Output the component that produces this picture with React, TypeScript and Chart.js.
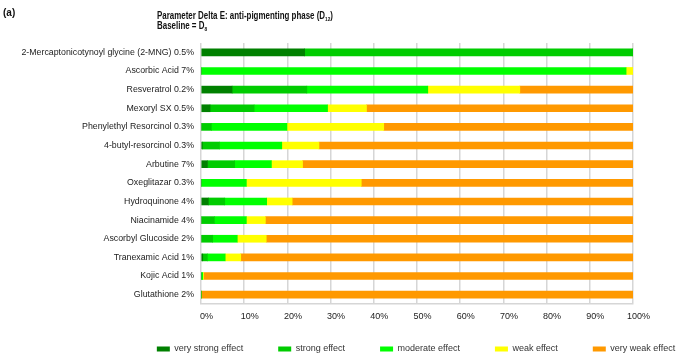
import React, { useEffect, useRef } from "react";
import { Chart, registerables } from "chart.js";

Chart.register(...registerables);

const categories = [
  "2-Mercaptonicotynoyl glycine (2-MNG) 0.5%",
  "Ascorbic Acid 7%",
  "Resveratrol 0.2%",
  "Mexoryl SX 0.5%",
  "Phenylethyl Resorcinol 0.3%",
  "4-butyl-resorcinol 0.3%",
  "Arbutine 7%",
  "Oxeglitazar 0.3%",
  "Hydroquinone 4%",
  "Niacinamide 4%",
  "Ascorbyl Glucoside 2%",
  "Tranexamic Acid 1%",
  "Kojic Acid 1%",
  "Glutathione 2%",
];

const seriesNames = ["very strong effect", "strong effect", "moderate effect", "weak effect", "very weak effect"];
const seriesColors = ["#008000", "#00CC00", "#00FF00", "#FFFF00", "#FF9900"];

const veryStrong = [24, 0, 7.2, 2.1, 0, 0.3, 1.5, 0, 1.7, 0, 0, 0.4, 0, 0];
const strong = [76, 0, 17.3, 10.2, 2.4, 4.0, 6.3, 0, 3.8, 3.1, 2.7, 1.1, 0, 0];
const moderate = [0, 98.4, 28, 17, 17.5, 14.4, 8.5, 10.5, 9.7, 7.4, 5.7, 4.1, 0.4, 0];
const weak = [0, 1.6, 21.3, 9, 22.4, 8.6, 7.2, 26.6, 5.9, 4.4, 6.7, 3.6, 0.2, 0];
const veryWeak = [0, 0, 26.2, 61.7, 57.7, 72.7, 76.5, 62.9, 78.9, 85.1, 84.9, 90.8, 99.4, 100];

const xTicks = [0, 10, 20, 30, 40, 50, 60, 70, 80, 90, 100];

const titleLine1 = "Parameter Delta E: anti-pigmenting phase (D";
const titleSub1 = "12";
const titleLine2 = "Baseline = D";
const titleSub2 = "8";
const panelLabel = "(a)";

const FONT = '"Liberation Sans", Arial, Helvetica, sans-serif';

const titlePlugin = {
  id: "customTitle",
  afterInit(chart: any) {
    const lg = chart.legend;
    if (lg && !lg.__patched) {
      const orig = lg.fit.bind(lg);
      lg.fit = function () {
        orig();
        this.height = 20;
      };
      lg.__patched = true;
    }
  },
  beforeDraw(chart: any) {
    const lg = chart.legend;
    if (lg) {
      const d = 416 - (lg.left + lg.right) / 2;
      lg.left += d;
      lg.right += d;
      lg.top = 309.5;
      lg.bottom = 363.5;
      lg.height = 54;
    }
  },
  afterDraw(chart: any) {
    const ctx = chart.ctx;
    ctx.save();
    ctx.fillStyle = "#111";
    ctx.textBaseline = "middle";
    ctx.textAlign = "left";
    ctx.font = `bold 10px ${FONT}`;
    ctx.fillText(panelLabel, 3, 13);

    const drawWithSub = (main: string, sub: string, x: number, y: number, tail: string, sx: number) => {
      ctx.save();
      ctx.translate(x, y);
      ctx.scale(sx, 1);
      ctx.font = `bold 10px ${FONT}`;
      ctx.fillText(main, 0, 0);
      const w = ctx.measureText(main).width;
      ctx.font = `bold 6px ${FONT}`;
      ctx.fillText(sub, w, 3);
      const ws = ctx.measureText(sub).width;
      ctx.font = `bold 10px ${FONT}`;
      if (tail) ctx.fillText(tail, w + ws, 0);
      ctx.restore();
    };
    ctx.font = `bold 10px ${FONT}`;
    const w1 = ctx.measureText(titleLine1).width;
    ctx.font = `bold 6px ${FONT}`;
    const w2 = ctx.measureText(titleSub1).width;
    ctx.font = `bold 10px ${FONT}`;
    const w3 = ctx.measureText(")").width;
    const sx = 176 / (w1 + w2 + w3);
    drawWithSub(titleLine1, titleSub1, 157, 16, ")", sx);
    drawWithSub(titleLine2, titleSub2, 157, 26.5, "", sx);
    ctx.restore();
  },
};

export default function App() {
  const ref = useRef<HTMLCanvasElement>(null);
  useEffect(() => {
    if (!ref.current) return;
    const data = [veryStrong, strong, moderate, weak, veryWeak];
    const chart = new Chart(ref.current, {
      type: "bar",
      data: {
        labels: categories,
        datasets: seriesNames.map((name, i) => ({
          label: name,
          data: data[i],
          backgroundColor: seriesColors[i],
          borderWidth: 0,
          barThickness: 7,
        })),
      },
      options: {
        indexAxis: "y",
        responsive: false,
        animation: false,
        devicePixelRatio: 1,
        layout: { padding: { top: 43, right: 59, left: 0, bottom: 20 } },
        scales: {
          x: {
            stacked: true,
            min: 0,
            max: 100,
            afterBuildTicks: (scale: any) => {
              scale.ticks = xTicks.map((v) => ({ value: v }));
            },
            afterFit: (scale: any) => {
              scale.height = 20;
            },
            grid: { color: "#d6d6d6", lineWidth: 1.5, drawTicks: false },
            border: { display: true, color: "#d6d6d6", width: 1.5 },
            ticks: {
              padding: 7,
              labelOffset: 5.5,
              color: "#222",
              font: { family: FONT, size: 9 },
              callback: (v: any) => v + "%",
              maxRotation: 0,
            },
          },
          y: {
            stacked: true,
            afterFit: (scale: any) => {
              scale.width = 201;
            },
            grid: { display: false, drawTicks: false },
            border: { display: false },
            ticks: {
              padding: 7,
              color: "#222",
              autoSkip: false,
              font: { family: FONT, size: 8.8 },
            },
          },
        },
        plugins: {
          legend: {
            position: "bottom",
            labels: {
              boxWidth: 13,
              boxHeight: 5,
              padding: 35,
              color: "#333",
              font: { family: FONT, size: 9 },
            },
          },
          tooltip: { enabled: false },
          title: { display: false },
        },
      },
      plugins: [titlePlugin],
    } as any);
    return () => chart.destroy();
  }, []);
  return (
    <div style={{ position: "fixed", left: 0, top: 0, width: 692, height: 364, background: "#fff" }}>
      <canvas ref={ref} width={692} height={364} />
    </div>
  );
}
